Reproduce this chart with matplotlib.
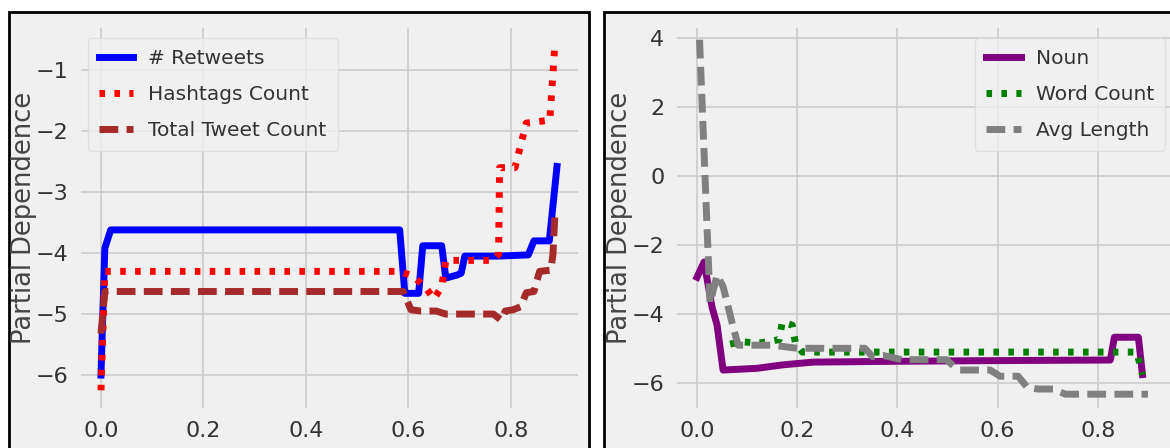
import matplotlib
matplotlib.use("Agg")
import matplotlib.pyplot as plt
from matplotlib.patches import Rectangle

# partial dependence curves, tweet-level features
retweets_x = [0.0, 0.0075, 0.019, 0.583, 0.593, 0.62, 0.628, 0.665, 0.673, 0.695,
              0.703, 0.71, 0.774, 0.834, 0.845, 0.875, 0.89]
retweets_y = [-6.0, -3.92, -3.62, -3.62, -4.66, -4.66, -3.88, -3.88, -4.41, -4.36,
              -4.33, -4.05, -4.05, -4.03, -3.8, -3.8, -2.58]

hashtags_x = [0.0, 0.0075, 0.583, 0.609, 0.632, 0.65, 0.665, 0.673, 0.766, 0.776,
              0.778, 0.808, 0.83, 0.876, 0.886]
hashtags_y = [-6.25, -4.3, -4.3, -4.38, -4.55, -4.75, -4.55, -4.12, -4.12, -4.02,
              -2.6, -2.6, -1.87, -1.82, -0.56]

tweets_x = [0.0, 0.0075, 0.59, 0.605, 0.624, 0.654, 0.673, 0.766, 0.781, 0.789,
            0.804, 0.819, 0.83, 0.845, 0.856, 0.878, 0.882, 0.886]
tweets_y = [-5.32, -4.63, -4.63, -4.93, -4.95, -4.95, -5.0, -5.0, -5.1, -4.95,
            -4.93, -4.88, -4.65, -4.63, -4.3, -4.28, -4.03, -3.35]

# partial dependence curves, text features
noun_x = [0.0, 0.014, 0.03, 0.04, 0.052, 0.12, 0.171, 0.232, 0.372, 0.557,
          0.825, 0.833, 0.881, 0.889]
noun_y = [-2.93, -2.49, -3.8, -4.32, -5.62, -5.57, -5.47, -5.39, -5.37, -5.35,
          -5.33, -4.67, -4.67, -5.75]

word_x = [0.066, 0.089, 0.123, 0.164, 0.17, 0.19, 0.196, 0.21, 0.5, 0.878, 0.889]
word_y = [-4.87, -4.8, -4.84, -4.74, -4.23, -4.32, -4.81, -5.1, -5.1, -5.1, -5.76]

length_x = [0.005, 0.026, 0.04, 0.052, 0.072, 0.082, 0.15, 0.2, 0.335, 0.35,
            0.372, 0.409, 0.498, 0.513, 0.525, 0.585, 0.605, 0.641, 0.659, 0.679,
            0.711, 0.735, 0.9]
length_y = [3.95, -3.68, -2.87, -3.2, -4.37, -4.9, -4.9, -4.99, -4.99, -5.23,
            -5.2, -5.32, -5.32, -5.52, -5.62, -5.62, -5.8, -5.8, -6.12, -6.17,
            -6.17, -6.32, -6.32]

BG = "#f0f0f0"
GRID = "#cbcbcb"
TEXT = "#333333"
DOT = (0, (0.8, 1.35))
DASH = (0, (2.7, 1.2))

plt.rcParams["font.family"] = ["DejaVu Sans"]

W, H = 1170, 448
fig = plt.figure(figsize=(W / 100, H / 100), dpi=100, facecolor="white")

# each panel sits in its own framed grey card
for x0, x1 in [(9, 589), (604, 1200)]:
    fig.patches.append(Rectangle((x0 / W, -20 / H), (x1 - x0) / W, (436 + 20) / H,
                                 transform=fig.transFigure, facecolor=BG,
                                 edgecolor="black", linewidth=2, zorder=-1))

ax1 = fig.add_axes([81 / W, 40 / H, 497 / W, 380 / H])
ax2 = fig.add_axes([677 / W, 40 / H, 497 / W, 380 / H])

for ax in (ax1, ax2):
    ax.set_facecolor(BG)
    ax.grid(True, color=GRID, linewidth=1.2)
    ax.set_axisbelow(True)
    for s in ax.spines.values():
        s.set_visible(False)
    ax.tick_params(length=0, labelsize=16, labelcolor=TEXT, pad=9)
    ax.set_ylabel("Partial Dependence", fontsize=18.5, color="#444444")
    ax.yaxis.set_label_coords(-0.089, 0.5)

ax1.plot(retweets_x, retweets_y, color="blue", lw=5, label="# Retweets")
ax1.plot(hashtags_x, hashtags_y, color="red", lw=5, linestyle=DOT,
         label="Hashtags Count")
ax1.plot(tweets_x, tweets_y, color="brown", lw=5, linestyle=DASH,
         label="Total Tweet Count")
ax1.set_xlim(-0.039, 0.931)
ax1.set_ylim(-6.54, -0.31)
ax1.set_xticks([0.0, 0.2, 0.4, 0.6, 0.8])
ax1.set_yticks([-6, -5, -4, -3, -2, -1])

ax2.plot(noun_x, noun_y, color="purple", lw=5, label="Noun")
ax2.plot(word_x, word_y, color="green", lw=5, linestyle=DOT, label="Word Count")
ax2.plot(length_x, length_y, color="gray", lw=5, linestyle=DASH,
         label="Avg Length")
ax2.set_xlim(-0.04, 0.952)
ax2.set_ylim(-6.72, 4.29)
ax2.set_xticks([0.0, 0.2, 0.4, 0.6, 0.8])
ax2.set_yticks([-6, -4, -2, 0, 2, 4])

leg_kw = dict(fontsize=14.5, handlelength=1.7, handletextpad=0.75,
              labelspacing=0.85, borderpad=0.55, borderaxespad=0,
              fancybox=True, framealpha=0.8, facecolor=BG, edgecolor="#dddddd")
leg1 = ax1.legend(loc="upper left", bbox_to_anchor=(0.014, 0.974), **leg_kw)
leg2 = ax2.legend(loc="upper right", bbox_to_anchor=(0.982, 0.974), **leg_kw)
for leg in (leg1, leg2):
    for t in leg.get_texts():
        t.set_color(TEXT)

fig.savefig("out.png", dpi=100, facecolor="white")
